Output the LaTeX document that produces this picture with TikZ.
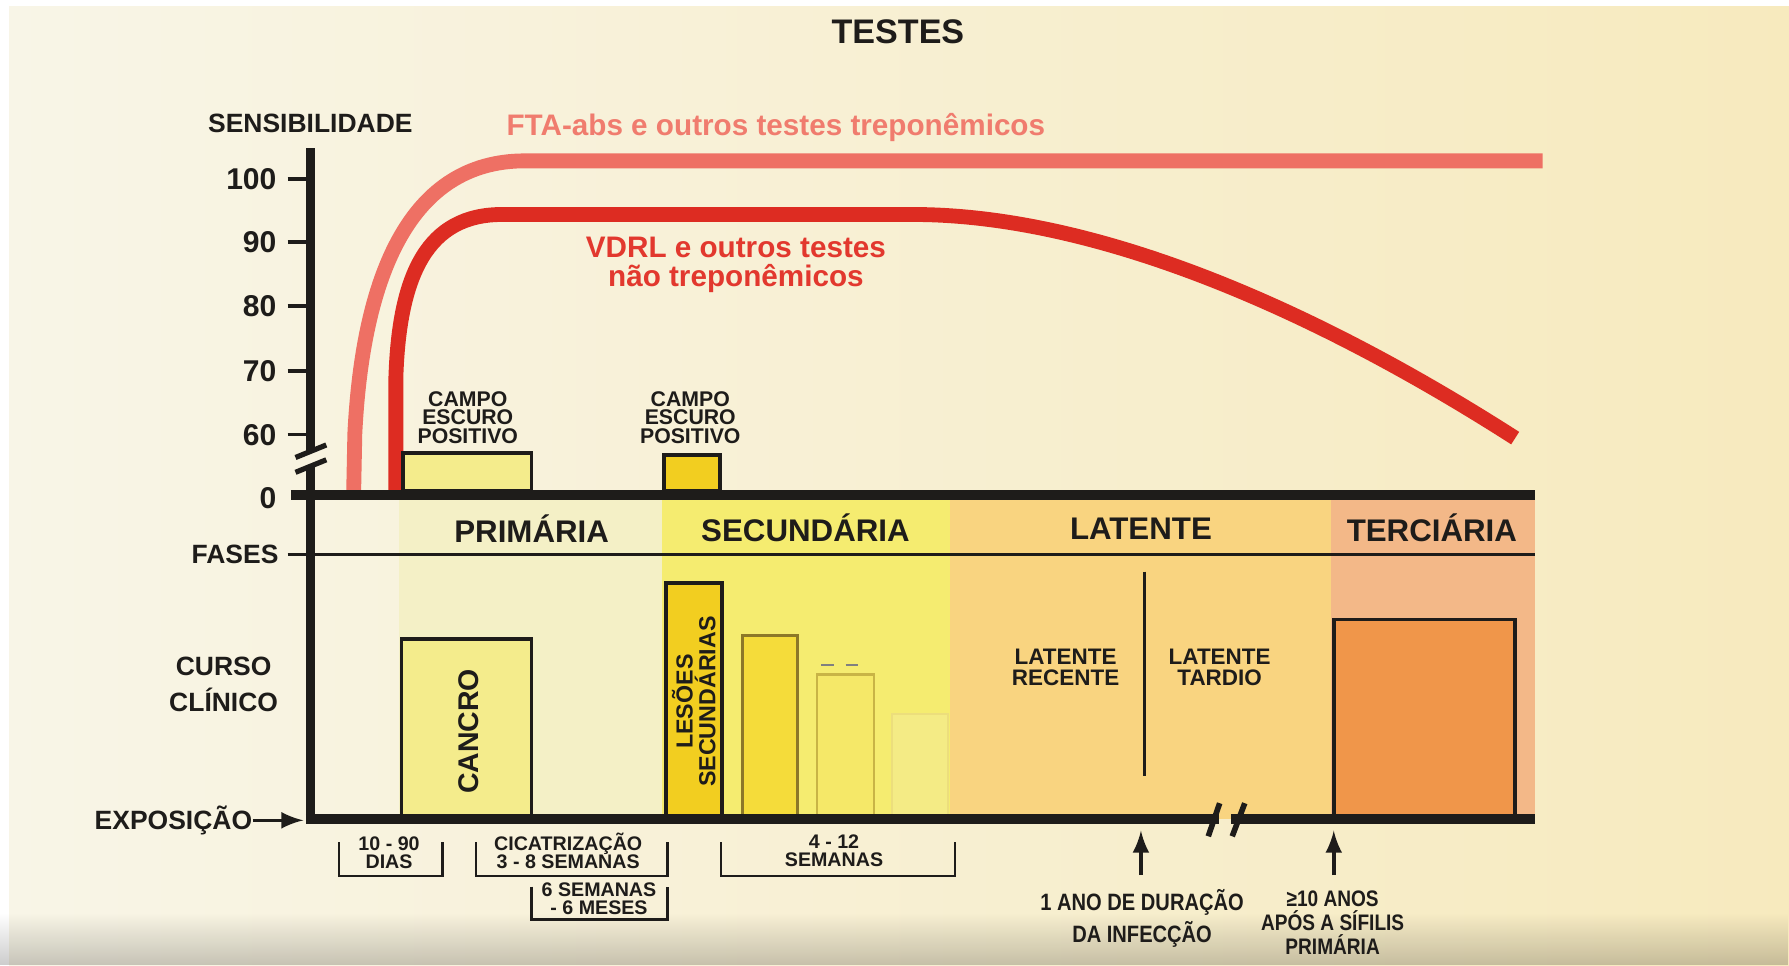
\documentclass[tikz,border=0pt]{standalone}
\usepackage{fontspec}
\setmainfont{Liberation Sans}
\newfontfamily\condfont[FakeStretch=0.85]{Liberation Sans}
\usetikzlibrary{positioning,fadings}

\definecolor{bgleft}{RGB}{248,245,231}
\definecolor{bgright}{RGB}{247,234,190}
\definecolor{ftared}{RGB}{238,112,100}
\definecolor{vdrlred}{RGB}{221,44,34}
\definecolor{ftatext}{RGB}{240,124,110}
\definecolor{vdrltext}{RGB}{226,56,46}
\definecolor{primcol}{RGB}{244,240,198}
\definecolor{seccol}{RGB}{245,236,112}
\definecolor{latcol}{RGB}{249,212,128}
\definecolor{tercol}{RGB}{243,184,136}
\definecolor{palebox}{RGB}{244,236,140}
\definecolor{goldbox}{RGB}{242,206,32}
\definecolor{terbox}{RGB}{240,150,74}
\definecolor{ink}{RGB}{30,28,26}

\newcommand{\setfs}[2]{\fontsize{#1}{#2}\selectfont}

\tikzset{
  lbl/.style={inner sep=0pt, align=center, text=ink},
  axisline/.style={line width=2.2pt, draw=ink},
  tickline/.style={line width=0.9pt, draw=ink},
  curve/.style={line width=3.7pt, line cap=butt},
  boxline/.style={line width=0.9pt, draw=ink},
  brace/.style={line width=0.6pt, draw=ink},
}

\begin{document}
\begin{tikzpicture}[x=0.1mm,y=-0.1mm,>=latex]%

\useasboundingbox (0,0) rectangle (1568,846);
\fill[white] (0,0) rectangle (1568,846);
\fill[left color=bgleft, right color=bgright] (8,6) rectangle (1568,846);
\fill[black, fill opacity=0.2, path fading=north] (0,800) rectangle (1568,846);

% fases
\fill[primcol] (350,438) rectangle (580,718);
\fill[seccol] (580,438) rectangle (833,718);
\fill[latcol] (833,438) rectangle (1167,718);
\fill[tercol] (1167,438) rectangle (1345,718);

\node[lbl, font=\bfseries\setfs{8.5}{10}] (title) at (787,28) {TESTES};
\node[lbl, font=\bfseries\setfs{6.6}{8}] (sens) at (272,108) {SENSIBILIDADE};

% curvas de sensibilidade
\draw[curve, ftared] (310,430) -- (311,380) .. controls (318,240) and (360,141) .. (460,141) -- (1352,141);
\draw[curve, vdrlred] (347,430) -- (347,330) .. controls (350,240) and (375,188) .. (440,188)
  -- (800,188) .. controls (960,188) and (1150,270) .. (1328,384);
\node[lbl, text=ftatext, font=\bfseries\setfs{7.4}{8}] (fta) at (680,112) {FTA-abs e outros testes treponêmicos};
\node[lbl, text=vdrltext, font=\bfseries\setfs{7.4}{7.1}] (vdrl) at (645,232) {VDRL e outros testes\\não treponêmicos};

% campo escuro
\draw[boxline, fill=palebox] (353,397) rectangle (466,430);
\draw[boxline, fill=goldbox] (582,399) rectangle (631,430);
\node[lbl, font=\bfseries\setfs{5.3}{4.6}] (campoA) at (410,366) {CAMPO\\ESCURO\\POSITIVO};
\node[lbl, font=\bfseries\setfs{5.3}{4.6}] (campoB) at (605,366) {CAMPO\\ESCURO\\POSITIVO};

% curso clinico
\draw[boxline, fill=palebox] (352,560) rectangle (466,718);
\node[lbl, rotate=90, font=\bfseries\setfs{7.1}{8}] (cancro) at (411,641) {CANCRO};
\draw[boxline, line width=1pt, fill=goldbox] (584,511) rectangle (633,718);
\node[lbl, rotate=90, font=\bfseries\setfs{5.8}{5.7}] (lesoes) at (608,615) {LESÕES\\SECUNDÁRIAS};
\draw[line width=0.8pt, draw={rgb,255:red,140;green,120;blue,40}, fill={rgb,255:red,245;green,220;blue,58}] (651,557) rectangle (699,718);
\draw[line width=0.7pt, draw={rgb,255:red,200;green,180;blue,70}, fill={rgb,255:red,245;green,232;blue,104}] (716,591) rectangle (766,718);
\draw[dashed, line width=0.4pt, gray] (720,583) -- (760,583);
\draw[line width=0.5pt, draw={rgb,255:red,236;green,222;blue,124}, fill={rgb,255:red,244;green,235;blue,133}] (782,626) rectangle (831,718);
\draw[line width=0.9pt, ink] (1003,501) -- (1003,680);
\node[lbl, font=\bfseries\setfs{5.6}{5.1}] (recente) at (934,585) {LATENTE\\RECENTE};
\node[lbl, font=\bfseries\setfs{5.6}{5.1}] (tardio) at (1069,585) {LATENTE\\TARDIO};
\draw[boxline, fill=terbox] (1169,543) rectangle (1328,718);

% nomes das fases
\node[lbl, font=\bfseries\setfs{7.8}{9}] (prim) at (466,463) {PRIMÁRIA};
\node[lbl, font=\bfseries\setfs{7.8}{9}] (sec) at (706,463) {SECUNDÁRIA};
\node[lbl, font=\bfseries\setfs{7.8}{9}] (lat) at (1000,463) {LATENTE};
\node[lbl, font=\bfseries\setfs{7.8}{9}] (ter) at (1255,463) {TERCIÁRIA};

% eixos
\draw[axisline] (272,130) -- (272,396);
\draw[axisline] (272,408) -- (272,722);
\draw[line width=1.3pt, ink] (259,401) -- (286,390);
\draw[line width=1.3pt, ink] (259,414) -- (286,403);
\draw[axisline, line width=2.4pt] (255,434) -- (1345,434);
\foreach \val/\yy in {100/157, 90/212, 80/268, 70/325, 60/381} {
  \draw[tickline] (252,\yy) -- (272,\yy);
  \node[lbl, anchor=east, font=\bfseries\setfs{7.5}{8}] (tick\val) at (243,\yy) {\val};
}
\node[lbl, anchor=east, font=\bfseries\setfs{7.5}{8}] (tick0) at (243,437) {0};
\draw[tickline] (252,486) -- (272,486);
\draw[line width=0.7pt, ink] (272,486) -- (1345,486);
\node[lbl, font=\bfseries\setfs{6.6}{8}] (fases) at (206,486) {FASES};
\node[lbl, font=\bfseries\setfs{6.6}{9.1}] (curso) at (196,600) {CURSO\\CLÍNICO};
\draw[axisline, line width=2.6pt] (268,718) -- (1068,718);
\draw[axisline, line width=2.6pt] (1079,718) -- (1345,718);
\draw[line width=1.4pt, ink] (1059,733) -- (1069,704);
\draw[line width=1.4pt, ink] (1080,733) -- (1091,704);

\node[lbl, font=\bfseries\setfs{6.6}{8}] (expo) at (152,719) {EXPOSIÇÃO};
\coordinate (origin) at (266,719);
\draw[->, line width=0.9pt, ink] (expo.east) -- (origin);

% periodos
\draw[brace] (297,738) |- (388,768) -- (388,738);
\draw[brace] (417,738) |- (585,768) -- (585,738);
\draw[brace] (466,777) |- (585,806) -- (585,777);
\draw[brace] (632,738) |- (837,768) -- (837,738);
\node[lbl, font=\bfseries\setfs{4.9}{4.5}] (dias) at (341,747) {10 - 90\\DIAS};
\node[lbl, font=\bfseries\setfs{4.9}{4.5}] (cicat) at (498,746) {CICATRIZAÇÃO\\3 - 8 SEMANAS};
\node[lbl, font=\bfseries\setfs{4.9}{4.5}] (meses) at (525,788) {6 SEMANAS\\- 6 MESES};
\node[lbl, font=\bfseries\setfs{4.9}{4.5}] (semanas) at (731,746) {4 - 12\\SEMANAS};

% marcos
\coordinate (anoTip) at (1000,728);
\coordinate (anoTail) at (1000,767);
\coordinate (dezTip) at (1169,728);
\coordinate (dezTail) at (1169,767);
\draw[->, line width=0.9pt, ink] (anoTail) -- (anoTip);
\draw[->, line width=0.9pt, ink] (dezTail) -- (dezTip);
\node[lbl, font=\condfont\bfseries\setfs{5.9}{8}] (ano) at (1001,805) {1 ANO DE DURAÇÃO\\DA INFECÇÃO};
\node[lbl, font=\condfont\bfseries\setfs{5.6}{6}] (dez) at (1168,809) {≥10 ANOS\\APÓS A SÍFILIS\\PRIMÁRIA};

\end{tikzpicture}
\end{document}
